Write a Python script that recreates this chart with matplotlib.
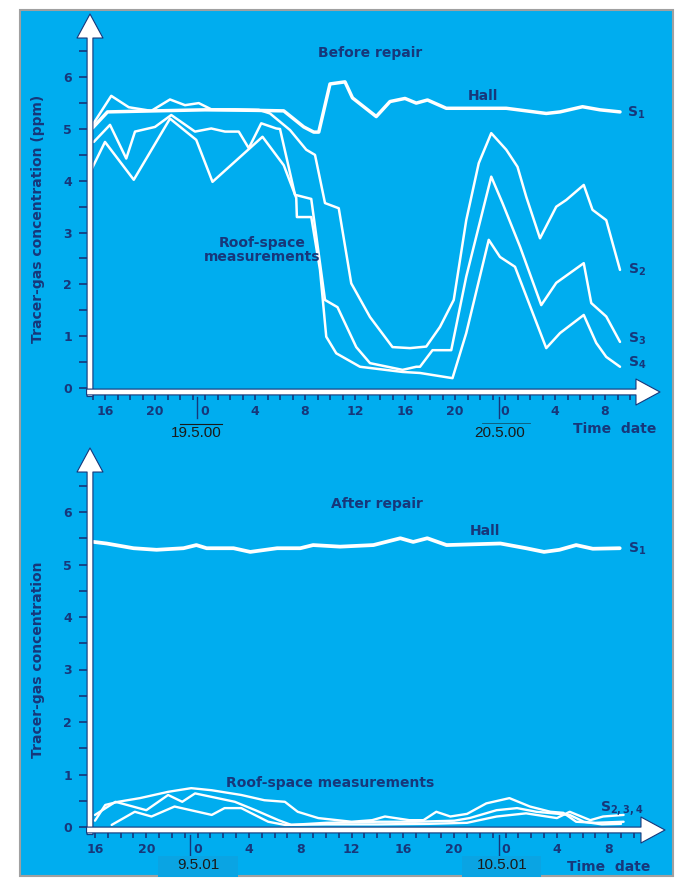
import numpy as np
import matplotlib.pyplot as plt
from matplotlib.patches import Rectangle, FancyArrowPatch
from matplotlib.lines import Line2D
from matplotlib.ticker import FixedLocator

# =========================
# CONFIGURATION
# =========================
W, H = 679, 892
BLUE = "#00adef"
INK = "#17377a"
DATE_INK = "#1a1a1a"

plt.rcParams["font.family"] = ["DejaVu Sans"]
plt.rcParams["font.weight"] = "bold"
plt.rcParams["mathtext.fontset"] = "custom"
plt.rcParams["mathtext.rm"] = "DejaVu Sans"
plt.rcParams["mathtext.bf"] = "DejaVu Sans:bold"

# hours counted from midnight of the first day (16 -> 16:00, 24 -> 0:00 next day)
XTICKS = [16, 20, 24, 28, 32, 36, 40, 44, 48, 52, 56]
XTICK_LABELS = ["16", "20", "0", "4", "8", "12", "16", "20", "0", "4", "8"]

# -------------------------
# Before repair (ppm)
# -------------------------
hall_before_h = [15.0, 16.2, 20.0, 24.0, 28.0, 30.3, 31.9, 32.7, 33.1, 34.0, 35.2, 35.8,
                 37.7, 38.8, 40.0, 40.9, 41.8, 43.3, 48.1, 51.3, 52.4, 54.2, 55.6, 57.2]
hall_before_v = [5.02, 5.33, 5.35, 5.37, 5.36, 5.35, 5.04, 4.94, 4.94, 5.87, 5.91, 5.60,
                 5.24, 5.53, 5.59, 5.50, 5.56, 5.40, 5.40, 5.30, 5.33, 5.43, 5.37, 5.33]

s2_before_h = [14.9, 16.5, 17.9, 19.7, 21.2, 22.4, 23.5, 24.5, 26.4, 28.3, 29.2, 30.8,
               32.1, 32.8, 33.6, 34.7, 35.7, 37.2, 39.0, 40.4, 41.7, 42.8, 43.9, 44.9,
               45.9, 46.9, 48.1, 49.0, 49.7, 50.8, 52.1, 52.9, 54.3, 55.0, 56.1, 57.2]
s2_before_v = [5.04, 5.64, 5.42, 5.35, 5.57, 5.46, 5.50, 5.38, 5.38, 5.37, 5.30, 4.98,
               4.60, 4.50, 3.57, 3.47, 2.02, 1.37, 0.79, 0.77, 0.80, 1.18, 1.70, 3.24,
               4.34, 4.92, 4.60, 4.27, 3.69, 2.89, 3.50, 3.63, 3.92, 3.44, 3.24, 2.28]

s3_before_h = [15.1, 16.4, 17.7, 18.4, 20.0, 21.3, 23.2, 24.5, 25.6, 26.7, 27.5, 28.5,
               29.7, 30.0, 31.2, 32.5, 33.6, 34.6, 36.1, 37.2, 39.8, 40.9, 41.2, 42.2,
               43.7, 44.9, 46.9, 47.8, 49.2, 50.9, 52.1, 54.3, 54.9, 56.1, 57.2]
s3_before_v = [4.75, 5.08, 4.43, 4.95, 5.04, 5.27, 4.95, 5.01, 4.95, 4.95, 4.63, 5.11,
               5.01, 5.00, 3.73, 3.65, 1.70, 1.56, 0.79, 0.48, 0.35, 0.41, 0.41, 0.73,
               0.73, 2.15, 4.08, 3.57, 2.73, 1.60, 2.03, 2.41, 1.64, 1.38, 0.89]

s4_before_h = [14.9, 16.0, 18.3, 21.2, 23.3, 24.6, 28.6, 30.3, 31.3, 31.35, 32.5, 33.2,
               33.7, 34.5, 36.4, 39.8, 41.2, 43.8, 44.9, 46.7, 47.6, 48.8, 51.3, 52.4,
               54.3, 55.3, 56.1, 57.2]
s4_before_v = [4.21, 4.75, 4.02, 5.20, 4.79, 3.98, 4.85, 4.30, 3.67, 3.30, 3.30, 2.28,
               0.99, 0.67, 0.41, 0.31, 0.29, 0.19, 1.06, 2.86, 2.53, 2.34, 0.77, 1.06,
               1.41, 0.87, 0.60, 0.41]

# -------------------------
# After repair (ppm)
# -------------------------
hall_after_h = [15.9, 16.9, 19.0, 20.8, 22.9, 23.9, 24.7, 26.8, 28.1, 30.2, 32.0, 33.0,
                35.1, 37.7, 39.8, 40.8, 41.9, 43.4, 47.6, 49.6, 51.0, 52.2, 53.5, 54.8, 56.9]
hall_after_v = [5.43, 5.40, 5.31, 5.28, 5.31, 5.37, 5.31, 5.31, 5.24, 5.31, 5.31, 5.37,
                5.34, 5.37, 5.50, 5.43, 5.50, 5.37, 5.40, 5.31, 5.24, 5.28, 5.37, 5.30, 5.31]

r1_after_h = [16.0, 16.8, 17.8, 19.5, 21.7, 23.5, 25.1, 27.4, 29.2, 30.8, 31.8, 33.4,
              36.0, 37.6, 38.6, 40.5, 41.6, 42.6, 43.7, 45.0, 46.5, 48.3, 49.9, 51.5,
              52.5, 53.5, 55.0, 57.2]
r1_after_v = [0.12, 0.42, 0.48, 0.55, 0.67, 0.74, 0.70, 0.61, 0.51, 0.48, 0.29, 0.17,
              0.10, 0.13, 0.20, 0.13, 0.13, 0.29, 0.20, 0.25, 0.45, 0.55, 0.39, 0.29,
              0.27, 0.10, 0.08, 0.10]

r2_after_h = [16.0, 17.6, 20.0, 21.7, 22.8, 23.8, 26.9, 28.5, 30.3, 31.3, 34.0, 38.0,
              41.0, 44.0, 45.2, 47.3, 48.9, 50.4, 53.0, 54.1, 55.5, 57.0]
r2_after_v = [0.23, 0.48, 0.32, 0.61, 0.48, 0.64, 0.48, 0.32, 0.13, 0.04, 0.08, 0.10,
              0.10, 0.12, 0.17, 0.32, 0.36, 0.29, 0.23, 0.10, 0.05, 0.06]

r3_after_h = [17.3, 19.1, 20.4, 22.2, 25.1, 26.1, 27.4, 29.5, 30.8, 34.0, 38.0, 42.0,
              45.0, 47.3, 49.6, 52.0, 53.0, 54.6, 55.6, 57.2]
r3_after_v = [0.04, 0.29, 0.20, 0.39, 0.23, 0.36, 0.36, 0.10, 0.04, 0.05, 0.05, 0.06,
              0.08, 0.20, 0.26, 0.17, 0.29, 0.13, 0.20, 0.23]


# =========================
# HELPERS
# =========================
def px_rect(left, top, right, bottom):
    return [left / W, 1 - bottom / H, (right - left) / W, (bottom - top) / H]


def ftext(px, py, s, **kw):
    kw.setdefault("color", INK)
    kw.setdefault("fontsize", 10)
    kw.setdefault("ha", "center")
    kw.setdefault("va", "center")
    fig.text(px / W, 1 - py / H, s, **kw)


def date_text(px, py, s):
    # dates were pasted on in a plain font
    ftext(px, py, s, color=DATE_INK, fontweight="normal", fontsize=11,
          family="Liberation Sans", zorder=2)


def fline(x0, y0, x1, y1, **kw):
    fig.add_artist(Line2D([x0 / W, x1 / W], [1 - y0 / H, 1 - y1 / H],
                          transform=fig.transFigure, **kw))


def style_axes(ax, xlim, ylim):
    ax.set_xlim(*xlim)
    ax.set_ylim(*ylim)
    ax.patch.set_alpha(0)
    for sp in ax.spines.values():
        sp.set_visible(False)

    ax.set_xticks(XTICKS)
    ax.set_xticklabels(XTICK_LABELS)
    ax.xaxis.set_minor_locator(FixedLocator(range(15, 59)))
    ax.set_yticks(range(0, 7))
    ax.yaxis.set_minor_locator(FixedLocator(np.arange(0.5, 7.0, 1.0)))

    ax.tick_params(axis="x", which="both", direction="out", length=6, width=1.2,
                   color=INK, labelcolor=INK, labelsize=9, pad=3.5)
    ax.tick_params(axis="y", which="both", direction="out", length=8, width=1.2,
                   color=INK, labelcolor=INK, labelsize=9, pad=5)

    # white axis arrows
    arrow_kw = dict(transform=ax.transAxes, clip_on=False, zorder=5,
                    arrowstyle="simple,head_width=1.87,head_length=1.73,tail_width=0.42",
                    mutation_scale=10, fc="white", ec=INK, lw=0.8,
                    shrinkA=0, shrinkB=0)
    ax.add_patch(FancyArrowPatch((0, -0.012), (0, 1), **arrow_kw))
    ax.add_patch(FancyArrowPatch((-0.006, 0), (1, 0), **arrow_kw))

    # day-boundary marks beside the "0" labels
    trans = ax.get_xaxis_transform()
    for h in (23.4, 47.5):
        ax.plot([h, h], [-0.012, -0.07], transform=trans, color=INK, lw=1.0,
                clip_on=False, zorder=6)


# =========================
# MAIN
# =========================
fig = plt.figure(figsize=(W / 100, H / 100), dpi=100)
fig.patch.set_facecolor("white")
fig.add_artist(Rectangle((20 / W, 1 - 876 / H), 653 / W, 866 / H,
                         transform=fig.transFigure, fc=BLUE, ec="#a0a0a0",
                         lw=1.5, zorder=0))

# ---- top panel: before repair
ax1 = fig.add_axes(px_rect(90, 14, 660, 392))
style_axes(ax1, (16 + (90 - 105) / 12.5, 16 + (660 - 105) / 12.5),
           ((388 - 392) / 51.8, (388 - 14) / 51.8))
line_kw = dict(color="white", solid_joinstyle="round", solid_capstyle="round", zorder=3)
ax1.plot(hall_before_h, hall_before_v, lw=2.5, **line_kw)
ax1.plot(s2_before_h, s2_before_v, lw=1.8, **line_kw)
ax1.plot(s3_before_h, s3_before_v, lw=1.8, **line_kw)
ax1.plot(s4_before_h, s4_before_v, lw=1.8, **line_kw)

# ---- bottom panel: after repair
ax2 = fig.add_axes(px_rect(90, 448, 665, 830))
style_axes(ax2, (16 + (90 - 95) / 12.83, 16 + (665 - 95) / 12.83),
           ((827 - 830) / 52.5, (827 - 448) / 52.5))
ax2.plot(hall_after_h, hall_after_v, lw=2.7, **line_kw)
ax2.plot(r1_after_h, r1_after_v, lw=1.7, **line_kw)
ax2.plot(r2_after_h, r2_after_v, lw=1.7, **line_kw)
ax2.plot(r3_after_h, r3_after_v, lw=1.7, **line_kw)

# ---- annotations, top
ftext(370, 53, "Before repair")
ftext(483, 96, "Hall")
ftext(627, 113, r"$\mathbf{S}_{\mathbf{1}}$", ha="left")
ftext(628, 270, r"$\mathbf{S}_{\mathbf{2}}$", ha="left")
ftext(628, 339, r"$\mathbf{S}_{\mathbf{3}}$", ha="left")
ftext(628, 363, r"$\mathbf{S}_{\mathbf{4}}$", ha="left")
ftext(262, 250, "Roof-space\nmeasurements", linespacing=1.05)
ftext(38, 219, "Tracer-gas concentration (ppm)", rotation=90)
ftext(615, 429, "Time  date")
date_text(196, 433, "19.5.00")
date_text(500, 433, "20.5.00")
fline(180, 424, 222, 424, color=DATE_INK, lw=0.8)
fline(482, 423, 530, 423, color=DATE_INK, lw=0.6, alpha=0.6)

# ---- annotations, bottom
ftext(377, 504, "After repair")
ftext(485, 531, "Hall")
ftext(628, 549, r"$\mathbf{S}_{\mathbf{1}}$", ha="left")
ftext(330, 783, "Roof-space measurements")
ftext(600, 809, r"$\mathbf{S}_{\mathbf{2,3,4}}$", ha="left")
ftext(38, 660, "Tracer-gas concentration", rotation=90)
ftext(609, 867, "Time  date")
fig.add_artist(Rectangle((158 / W, 1 - 877 / H), 80 / W, 21 / H,
                         transform=fig.transFigure, fc="#0aa4e3", ec="none", zorder=1))
fig.add_artist(Rectangle((462 / W, 1 - 877 / H), 79 / W, 21 / H,
                         transform=fig.transFigure, fc="#0aa4e3", ec="none", zorder=1))
date_text(198, 865, "9.5.01")
date_text(502, 865, "10.5.01")

fig.savefig("out.png", dpi=100)
